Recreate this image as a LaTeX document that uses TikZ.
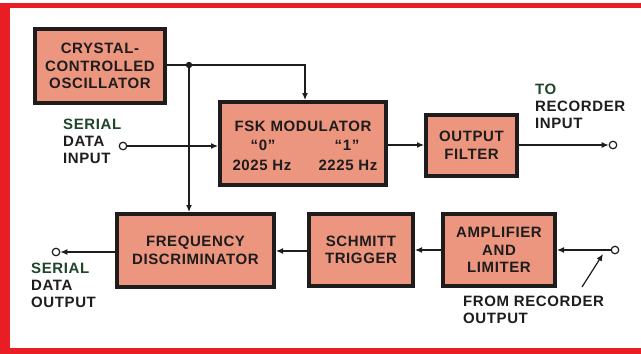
\documentclass[tikz,border=0pt]{standalone}
\usepackage{fontspec}
\setmainfont{Liberation Sans}[LetterSpace=4]
\usetikzlibrary{arrows.meta}
\definecolor{boxfill}{RGB}{236,150,128}
\definecolor{frame}{RGB}{232,30,36}
\definecolor{dkgreen}{RGB}{30,70,40}
\definecolor{ink}{RGB}{30,28,28}
\tikzset{
  blk/.style={draw=ink, line width=4pt, fill=boxfill, inner sep=0pt, align=center,
     font=\bfseries\fontsize{15}{17.5}\selectfont, text=ink},
  txt/.style={font=\bfseries\fontsize{15}{17.5}\selectfont, text=ink},
  lab/.style={align=left, anchor=north west, inner sep=0pt,
     font=\bfseries\fontsize{15}{17}\selectfont, text=ink},
  wire/.style={draw=ink, line width=1.2pt},
  arr/.style={wire, -{Latex[length=7pt,width=6pt]}},
  term/.style={circle, draw=ink, line width=1.2pt, fill=white, minimum size=7.5pt, inner sep=0pt},
}
\begin{document}
\begin{tikzpicture}[x=1pt,y=-1pt]
\useasboundingbox (0,0) rectangle (641,354);
\fill[white] (0,0) rectangle (641,354);
% red frame
\fill[frame] (0,3) rectangle (641,8);
\fill[frame] (0,3) rectangle (10,354);
\fill[frame] (0,348) rectangle (641,354);
% blocks
\node[blk, minimum width=130pt, minimum height=74pt] (osc) at (100,66)
  {CRYSTAL-\\CONTROLLED\\OSCILLATOR};
\node[blk, minimum width=166pt, minimum height=83pt] (fsk) at (303,143.5) {};
\node[txt] (fskt) at (303,126) {FSK MODULATOR};
\node[txt] (q0) at (263,145) {``0''};
\node[txt] (q1) at (347,145) {``1''};
\node[txt] (f0) at (262,165) {2025 Hz};
\node[txt] (f1) at (348,165) {2225 Hz};
\node[blk, minimum width=91pt, minimum height=61pt] (filt) at (471.5,145.5) {OUTPUT\\FILTER};
\node[blk, minimum width=157pt, minimum height=73pt] (disc) at (195.5,250.5) {FREQUENCY\\DISCRIMINATOR};
\node[blk, minimum width=104pt, minimum height=72pt] (schm) at (361,250) {SCHMITT\\TRIGGER};
\node[blk, minimum width=112pt, minimum height=72pt] (amp) at (499,250) {AMPLIFIER\\AND\\LIMITER};
% terminals
\node[term] (tin) at (123,146) {};
\node[term] (tout) at (613,145) {};
\node[term] (rin) at (615,250) {};
\node[term] (dout) at (56,252) {};
\coordinate (dot) at (189,65);
\coordinate (ptail) at (582,287);
% wires
\draw[wire] (osc.east |- dot) -- (dot);
\draw[arr] (dot) -| (fsk.north -| 305,0);
\draw[arr] (dot) -- (dot |- disc.north);
\fill[ink] (dot) circle (3.2pt);
\draw[arr] (tin) -- (fsk.west |- tin);
\draw[arr] (fsk.east |- 0,145) -- (filt.west |- 0,145);
\draw[arr] (filt.east |- tout) -- (tout.west);
\draw[arr] (rin.west) -- (amp.east |- rin);
\draw[arr] (amp.west |- 0,250) -- (schm.east |- 0,250);
\draw[arr] (schm.west |- 0,251) -- (disc.east |- 0,251);
\draw[arr] (disc.west |- dout) -- (dout.east);
\draw[arr] (ptail) -- (603,254);
% labels
\node[lab] (lin) at (63,119) {\textcolor{dkgreen}{SERIAL}\\DATA\\INPUT};
\node[lab] (lto) at (535,84) {\textcolor{dkgreen}{TO}\\RECORDER\\INPUT};
\node[lab] (lout) at (31,263) {\textcolor{dkgreen}{SERIAL}\\DATA\\OUTPUT};
\node[lab] (lfrom) at (463,296) {FROM RECORDER\\OUTPUT};
\end{tikzpicture}
\end{document}
